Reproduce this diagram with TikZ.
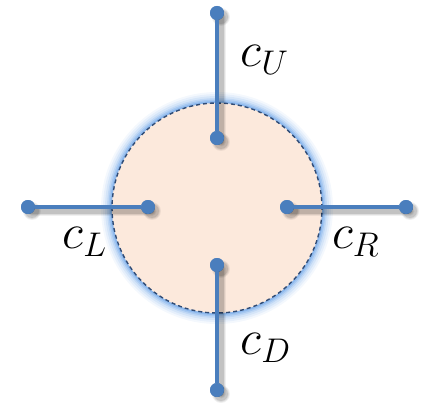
\documentclass[tikz,border=0pt]{standalone}
\usetikzlibrary{calc}
\definecolor{lineblue}{RGB}{74,126,189}
\definecolor{fillpeach}{RGB}{252,233,220}
\definecolor{dashblue}{RGB}{48,76,118}
\definecolor{glowblue}{RGB}{110,165,232}
\begin{document}
\begin{tikzpicture}[x=1pt,y=-1pt,
  dot/.style={circle,fill=lineblue,inner sep=0pt,minimum size=14pt},
  conn/.style={lineblue,line width=4pt},
  lab/.style={font=\LARGE,scale=2.85,inner sep=0pt},
  disk/.style={circle,minimum size=210pt,inner sep=0pt,fill=fillpeach,draw=dashblue,line width=1.4pt,dash pattern=on 4pt off 3pt}]
\useasboundingbox (0,0) rectangle (431,404);
% glow
\foreach \w/\o in {22/0.08,18/0.1,14/0.14,10/0.2,7/0.3,4/0.45}
  \draw[glowblue,line width=\w pt,opacity=\o] (217,208) circle (105pt);
\node[disk] (D) at (217,208) {};
% dots
\node[dot] (uo) at (217,13) {};
\node[dot] (ui) at (217,138) {};
\node[dot] (lo) at (28,207) {};
\node[dot] (li) at (148,207) {};
\node[dot] (ri) at (287,207) {};
\node[dot] (ro) at (406,207) {};
\node[dot] (di) at (217,265) {};
\node[dot] (dout) at (217,390) {};
% shadows
\begin{scope}
\foreach \a/\b in {uo/ui,lo/li,ri/ro,di/dout}{
  \foreach \w/\o in {9/0.06,7/0.08,5/0.12}
    \draw[black,line width=\w pt,opacity=\o,line cap=round] ($(\a.center)+(4,4)$) -- ($(\b.center)+(4,4)$);
}
\foreach \a in {uo,ui,lo,li,ri,ro,di,dout}{
  \foreach \r/\o in {9/0.06,8/0.08,7/0.1}
    \fill[black,opacity=\o] ($(\a.center)+(4,4)$) circle (\r pt);
}
\end{scope}
% connectors
\draw[conn] (uo) -- (ui);
\draw[conn] (lo) -- (li);
\draw[conn] (ri) -- (ro);
\draw[conn] (di) -- (dout);
% redraw dots on top
\foreach \a in {uo,ui,lo,li,ri,ro,di,dout}
  \fill[lineblue] (\a.center) circle (7pt);
% labels
\node[lab] (cu) at (265,60) {$c_U$};
\node[lab] (cl) at (85,242) {$c_L$};
\node[lab] (cr) at (356,242) {$c_R$};
\node[lab] (cd) at (266,348) {$c_D$};
\end{tikzpicture}
\end{document}
